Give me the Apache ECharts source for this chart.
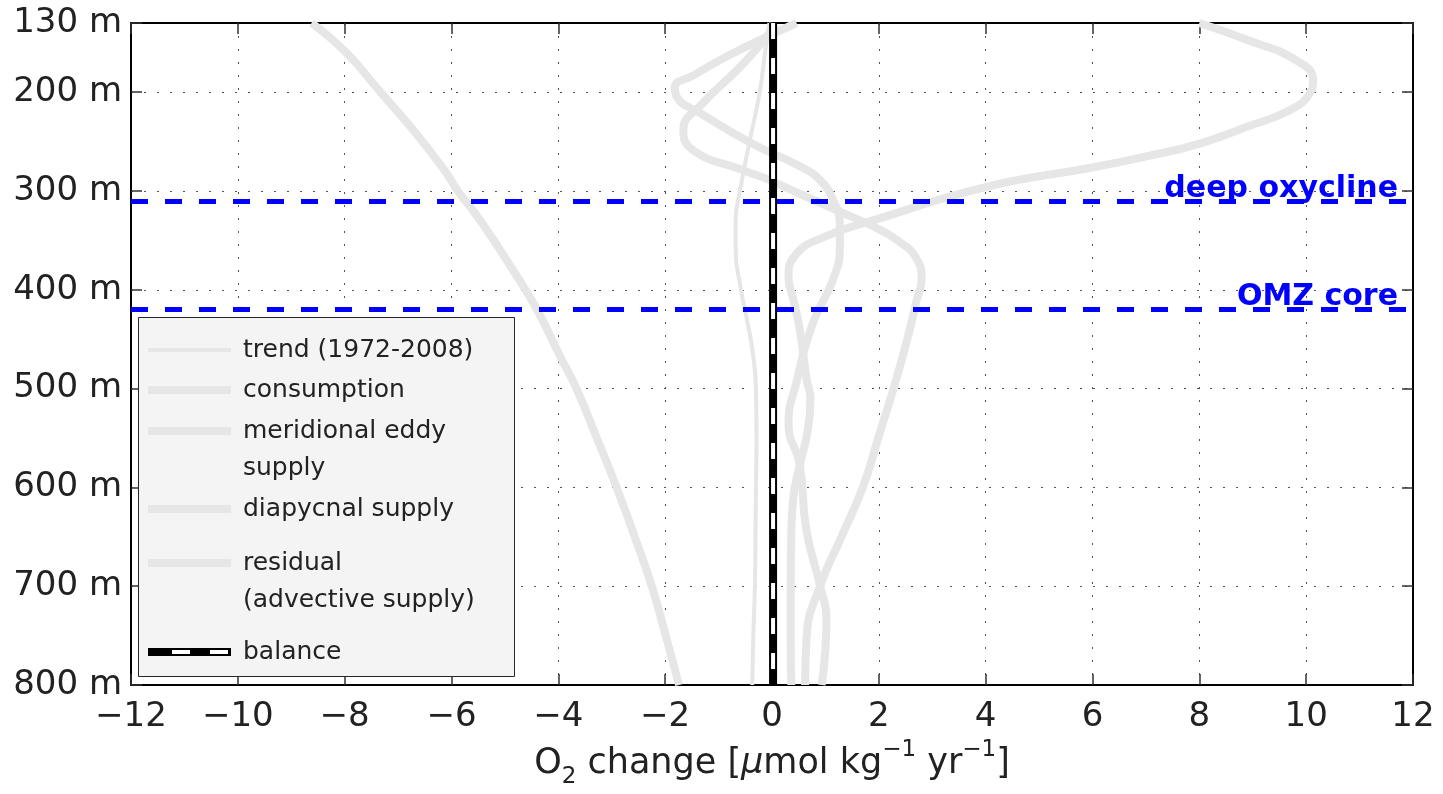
<!DOCTYPE html>
<html><head><meta charset="utf-8">
<script src="https://cdn.jsdelivr.net/npm/echarts@6/dist/echarts.min.js"></script>
<style>html,body{margin:0;padding:0;background:#fff}#c{width:1443px;height:794px}</style>
</head><body><div id="c"></div>
<script>
// ---- data: [O2 change, depth m] ----
const depthTicks = [130, 200, 300, 400, 500, 600, 700, 800];
const trend = [[-0.05,130],[-0.13,160],[-0.23,200],[-0.42,250],[-0.60,300],[-0.68,330],[-0.68,360],[-0.58,400],[-0.47,430],[-0.37,460],[-0.30,500],[-0.29,550],[-0.30,600],[-0.31,650],[-0.32,700],[-0.35,750],[-0.37,800]];
const consumption = [[-8.62,130],[-7.97,160],[-7.33,200],[-6.69,240],[-6.12,280],[-5.88,300],[-5.46,330],[-4.85,380],[-4.40,420],[-3.97,467],[-3.66,500],[-3.28,550],[-2.91,600],[-2.57,650],[-2.25,700],[-1.99,750],[-1.74,800]];
const eddy = [[0.02,130],[-0.05,140],[-0.35,160],[-0.66,178],[-1.29,211],[-1.66,238],[-1.47,259],[-0.54,279],[-0.04,289],[0.40,300],[0.90,312],[1.40,324],[1.90,336],[2.35,350],[2.70,368],[2.80,390],[2.71,410],[2.58,440],[2.33,490],[2.00,548],[1.70,600],[1.30,650],[0.90,700],[0.65,750],[0.62,800]];
const diapycnal = [[8.0,130],[8.89,147],[9.82,168],[10.13,188],[10.07,201],[9.70,218],[8.89,235],[8.01,252],[7.01,265],[6.02,276],[4.0,296],[2.0,328],[1.0,346],[0.42,366],[0.31,387],[0.40,410],[0.52,440],[0.65,491],[0.72,510],[0.66,545],[0.52,577],[0.40,610],[0.36,650],[0.35,700],[0.35,750],[0.36,800]];
const residual = [[0.46,130],[-0.22,147],[-0.85,164],[-1.47,183],[-1.82,195],[-1.78,205],[-1.35,221],[-0.41,251],[0.52,275],[0.90,289],[1.15,310],[1.27,335],[1.27,356],[1.14,390],[0.77,433],[0.47,491],[0.31,536],[0.52,577],[0.64,642],[0.90,700],[1.02,733],[0.93,800]];
const balance = [[0.02,130],[0.02,300],[0.02,500],[0.02,800]];
const oxyclineDepth = 310;
const omzCoreDepth = 420;
const seriesNames = ['trend (1972-2008)', 'consumption', 'meridional eddy supply', 'diapycnal supply', 'residual (advective supply)', 'balance'];

const FONT = 'DejaVu Sans';
const GRAY = '#e6e6e6';
const TXT = '#222';
const chart = echarts.init(document.getElementById('c'), null, {renderer: 'canvas'});

const gridLine = {show: true, lineStyle: {color: '#555', width: 1, type: [2, 11]}};
const frameLine = {show: true, onZero: false, lineStyle: {color: '#000', width: 2}};
const inTick = {show: true, inside: true, length: 11, lineStyle: {color: '#333', width: 1.5}};

function curve(name, data, width) {
  return {name, type: 'line', data, smooth: 0.5, symbol: 'none', z: 3,
    lineStyle: {color: GRAY, width}, itemStyle: {color: GRAY}};
}

const oneLineText = {fontFamily: FONT, fontSize: 25, color: TXT, lineHeight: 30, padding: [0, 0, 0, 7]};
const threeLineText = {fontFamily: FONT, fontSize: 25, color: TXT, lineHeight: 37, padding: [0, 0, 0, 7]};
function legendItem(name, top, opts) {
  return Object.assign({
    data: [name], orient: 'vertical', left: 148, top, padding: 0,
    itemWidth: 83, itemHeight: 8, icon: 'rect', selectedMode: false, z: 8,
    formatter: '{name}', textStyle: oneLineText
  }, opts || {});
}

const option = {
  animation: false,
  backgroundColor: '#fff',
  grid: {left: 131, right: 30, top: 23, bottom: 108},
  xAxis: [{
    type: 'value', min: -12, max: 12, interval: 2, position: 'bottom',
    axisLine: frameLine, axisTick: inTick, splitLine: gridLine,
    axisLabel: {fontFamily: FONT, fontSize: 34, color: TXT, margin: 15, lineHeight: 34,
      formatter: v => v < 0 ? '\u2212' + (-v) : String(v)},
    name: 'O{sub|2} change [{it|\u03bc}mol kg{sup|\u22121} yr{sup|\u22121}]',
    nameLocation: 'middle', nameGap: 54,
    nameTextStyle: {fontFamily: FONT, fontSize: 35, color: TXT, lineHeight: 50,
      rich: {
        sub: {fontFamily: FONT, fontSize: 23, color: TXT, verticalAlign: 'bottom', lineHeight: 30},
        sup: {fontFamily: FONT, fontSize: 23, color: TXT, verticalAlign: 'top', lineHeight: 30},
        it: {fontFamily: FONT, fontSize: 35, color: TXT, fontStyle: 'italic', lineHeight: 50}
      }}
  }, {
    type: 'value', min: -12, max: 12, interval: 2, position: 'top',
    axisLine: frameLine, axisTick: inTick, splitLine: {show: false}, axisLabel: {show: false}
  }],
  yAxis: [{
    type: 'value', inverse: true, min: 130, max: 800, position: 'left',
    axisLine: frameLine,
    axisTick: Object.assign({customValues: depthTicks}, inTick),
    splitLine: gridLine,
    axisLabel: {customValues: depthTicks, formatter: '{value} m', fontFamily: FONT, fontSize: 34, color: TXT, margin: 9}
  }, {
    type: 'value', inverse: true, min: 130, max: 800, position: 'right',
    axisLine: frameLine,
    axisTick: Object.assign({customValues: depthTicks}, inTick),
    splitLine: {show: false}, axisLabel: {show: false}
  }],
  legend: [
    legendItem(seriesNames[0], 335, {itemHeight: 4}),
    legendItem(seriesNames[1], 375),
    legendItem(seriesNames[2], 375.5, {formatter: '\nmeridional eddy\nsupply', textStyle: threeLineText}),
    legendItem(seriesNames[3], 494),
    legendItem(seriesNames[4], 507.5, {formatter: '\nresidual\n(advective supply)', textStyle: threeLineText}),
    legendItem(seriesNames[5], 637),
    legendItem('balance dashes', 637, {z: 9, icon: 'path://M0,0 M83,8 M24,2 H42 V6 H24 Z M62,2 H80 V6 H62 Z',
      formatter: 'balance', textStyle: Object.assign({}, oneLineText, {color: 'rgba(0,0,0,0)'})})
  ],
  graphic: [{
    type: 'rect', left: 138, top: 317, z: 6,
    shape: {width: 376, height: 359},
    style: {fill: '#f4f4f4', stroke: '#262626', lineWidth: 1}
  }],
  series: [
    {name: 'markers', type: 'line', data: [], z: 2, symbol: 'none',
      markLine: {
        silent: true, symbol: ['none', 'none'], animation: false,
        lineStyle: {color: '#0000ff', width: 5, type: [17, 17]},
        label: {show: true, position: 'insideEndTop', distance: [15, -3], color: '#0000ff',
          fontFamily: FONT, fontSize: 30, fontWeight: 'bold', lineHeight: 30},
        data: [
          {yAxis: oxyclineDepth, label: {formatter: 'deep oxycline'}},
          {yAxis: omzCoreDepth, label: {formatter: 'OMZ core'}}
        ]
      }},
    curve(seriesNames[0], trend, 4),
    curve(seriesNames[1], consumption, 8),
    curve(seriesNames[2], eddy, 8),
    curve(seriesNames[3], diapycnal, 8),
    curve(seriesNames[4], residual, 8),
    {name: seriesNames[5], type: 'line', data: balance, symbol: 'none', z: 4,
      lineStyle: {color: '#000', width: 8}, itemStyle: {color: '#000'}},
    {name: 'balance dashes', type: 'line', data: balance, symbol: 'none', z: 5,
      lineStyle: {color: '#fff', width: 4, type: [16, 19]}, itemStyle: {color: '#fff'}}
  ]
};
chart.setOption(option);
</script></body></html>
